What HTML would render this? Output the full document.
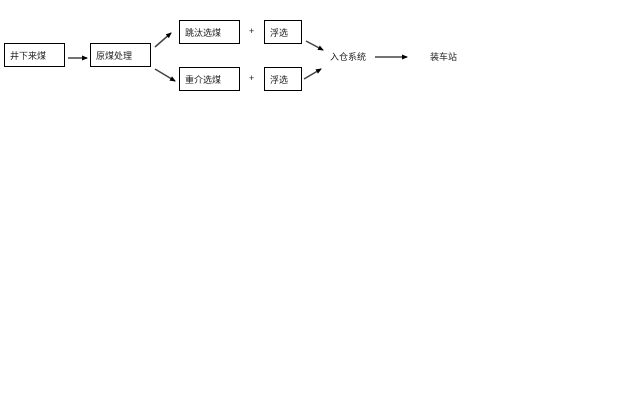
<!DOCTYPE html>
<html><head><meta charset="utf-8"><style>
body{margin:0;width:640px;height:400px;background:#fff;position:relative;overflow:hidden;font-family:"Liberation Sans","Noto Sans CJK SC",sans-serif;font-size:9px;color:#222}
.b{position:absolute;border:1px solid #000;box-sizing:border-box;padding-left:5px;display:flex;align-items:center}
.t{position:absolute}
</style></head><body>
<div class="b" style="left:4px;top:43px;width:61px;height:24px">井下来煤</div>
<div class="b" style="left:90px;top:43px;width:61px;height:24px">原煤处理</div>
<div class="b" style="left:179px;top:20px;width:61px;height:24px">跳汰选煤</div>
<div class="b" style="left:179px;top:67px;width:61px;height:24px">重介选煤</div>
<div class="b" style="left:264px;top:20px;width:38px;height:24px">浮选</div>
<div class="b" style="left:264px;top:67px;width:38px;height:24px">浮选</div>
<div class="t" style="left:249px;top:26px">+</div>
<div class="t" style="left:249px;top:73px">+</div>
<div class="t" style="left:330px;top:50px">入仓系统</div>
<div class="t" style="left:430px;top:50px">装车站</div>
<svg width="640" height="400" style="position:absolute;left:0;top:0">
<defs><marker id="a" markerUnits="userSpaceOnUse" markerWidth="6" markerHeight="5" refX="5" refY="2.5" orient="auto"><path d="M0,0L6,2.5L0,5z" fill="#000"/></marker></defs>
<g stroke="#444" stroke-width="1.5" fill="none" marker-end="url(#a)">
<line x1="68" y1="58" x2="87" y2="58"/>
<line x1="155" y1="47" x2="171" y2="33"/>
<line x1="155" y1="69" x2="175" y2="81"/>
<line x1="306" y1="41" x2="323" y2="50"/>
<line x1="304" y1="79" x2="321" y2="69"/>
<line x1="375" y1="57" x2="407" y2="57"/>
</g></svg>
</body></html>
